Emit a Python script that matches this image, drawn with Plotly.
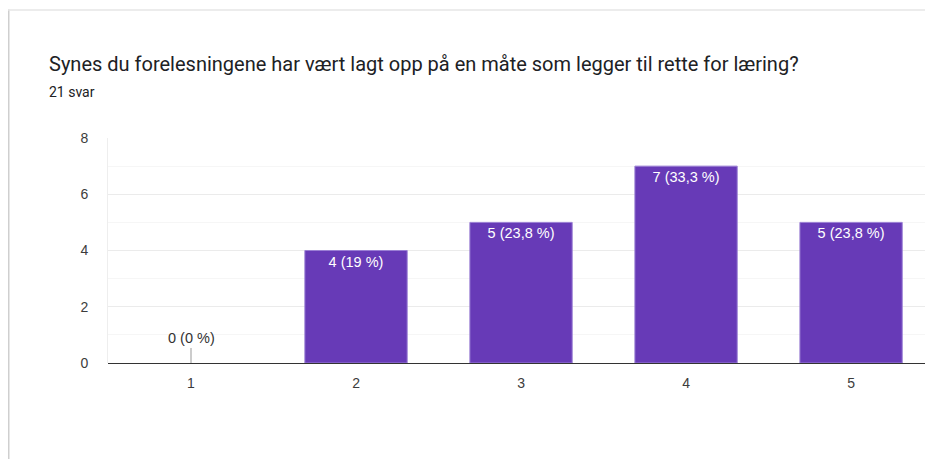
import plotly.graph_objects as go

# survey answers (scale 1-5) and number of responses
categories = [1, 2, 3, 4, 5]
counts = [0, 4, 5, 7, 5]
y_ticks = [0, 2, 4, 6, 8]

question = "Synes du forelesningene har vært lagt opp på en måte som legger til rette for læring?"
total = sum(counts)
subtitle = f"{total} svar"


def pct_label(c):
    p = round(c / total * 100, 1)
    return f"{c} ({p:g} %)".replace(".", ",")


labels = [pct_label(c) for c in counts]
bar_text = [lab if c > 0 else "" for c, lab in zip(counts, labels)]
edge_width = [1 if c > 0 else 0 for c in counts]

PURPLE = "#673ab7"
# page has an 8px body margin, so the figure is drawn 8px in from the window edge
W, H = 925, 451
L, R, T, B = 100, 8, 130, 96
pw, ph = W - L - R, H - T - B


def px_x(px):
    return (px - L) / pw


def px_y(py):
    return (H - B - py) / ph


fig = go.Figure()
fig.add_trace(go.Bar(
    x=categories, y=counts, width=0.62,
    marker=dict(color=PURPLE, line=dict(color="#9a7fd4", width=edge_width)),
    text=bar_text, textposition="inside", insidetextanchor="end",
    textfont=dict(color="white", size=14.5, family="Liberation Sans"),
    textangle=0, cliponaxis=False, hoverinfo="skip",
))

# zero-valued answers get a small stem with the label above it
for cat, c, lab in zip(categories, counts, labels):
    if c == 0:
        fig.add_annotation(
            x=cat, y=0, xref="x", yref="y", text=lab,
            showarrow=True, arrowhead=0, arrowwidth=1, arrowcolor="#999999",
            ax=0, ay=-15, yanchor="bottom",
            font=dict(color="#333333", size=14.5, family="Liberation Sans"),
        )

# title and answer count
fig.add_annotation(
    x=px_x(39), y=px_y(56), xref="paper", yref="paper", text=question,
    showarrow=False, xanchor="left", yanchor="middle",
    font=dict(family="Roboto", size=20, color="#202124"),
)
fig.add_annotation(
    x=px_x(39), y=px_y(84), xref="paper", yref="paper", text=subtitle,
    showarrow=False, xanchor="left", yanchor="middle",
    font=dict(family="Roboto", size=14, color="#202124"),
)

# card edge shadow
fig.add_shape(type="line", xref="paper", yref="paper",
              x0=px_x(0.5), x1=px_x(0.5), y0=px_y(1.5), y1=px_y(460),
              line=dict(color="#cfcfcf", width=2))
fig.add_shape(type="line", xref="paper", yref="paper",
              x0=px_x(0), x1=px_x(930), y0=px_y(2), y1=px_y(2),
              line=dict(color="#e6e6e6", width=1.5))

fig.update_layout(
    width=W, height=H,
    margin=dict(l=L, r=R, t=T, b=B),
    paper_bgcolor="white", plot_bgcolor="white",
    showlegend=False,
    font=dict(family="Liberation Sans", color="#444444"),
)
fig.update_xaxes(
    range=[0.497, 5.448], tickvals=categories, ticktext=[str(c) for c in categories],
    showgrid=False, zeroline=False, showline=False,
    ticks="", ticklabelstandoff=10,
    tickfont=dict(size=14, color="#3c3c3c"),
)
fig.update_yaxes(
    range=[0, 8], tickvals=y_ticks, showgrid=True, gridcolor="#ebebeb", gridwidth=1,
    minor=dict(dtick=1, showgrid=True, gridcolor="#f6f6f6", gridwidth=1),
    zeroline=True, zerolinecolor="#333333", zerolinewidth=1,
    showline=True, linecolor="#eeeeee", linewidth=1,
    ticks="", ticklabelstandoff=16,
    tickfont=dict(size=14, color="#3c3c3c"),
)

fig.write_html("out.html")
